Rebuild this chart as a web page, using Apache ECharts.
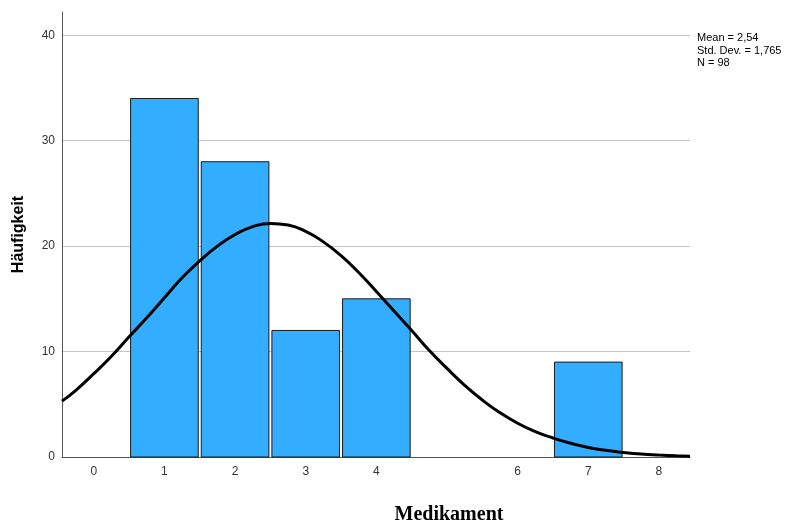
<!DOCTYPE html>
<html>
<head>
<meta charset="utf-8">
<script src="https://cdn.jsdelivr.net/npm/echarts@6/dist/echarts.min.js"></script>
<style>html,body{margin:0;padding:0;background:#fff}#c{width:790px;height:525px}</style>
</head>
<body>
<div id="c"></div>
<script>
const binCenters = [1, 2, 3, 4, 7];
const binCounts = [34, 28, 12, 15, 9];
const xTickLabels = [0, 1, 2, 3, 4, 6, 7, 8];
const yTickLabels = [0, 10, 20, 30, 40];
const curveX = [-0.45, -0.25, 0, 0.25, 0.5, 0.75, 1, 1.25, 1.5, 1.75, 2, 2.25, 2.5, 2.75, 3, 3.25, 3.5, 3.75, 4, 4.25, 4.5, 4.75, 5, 5.25, 5.5, 5.75, 6, 6.25, 6.5, 6.75, 7, 7.25, 7.5, 7.75, 8, 8.25, 8.44];
const curveY = [5.3, 6.35, 7.9, 9.55, 11.4, 13.2, 15.1, 17.0, 18.6, 20.0, 21.1, 21.85, 22.15, 22.0, 21.4, 20.4, 19.1, 17.5, 15.7, 13.85, 12.0, 10.1, 8.4, 6.8, 5.4, 4.2, 3.2, 2.4, 1.8, 1.3, 0.9, 0.63, 0.43, 0.28, 0.19, 0.12, 0.08];
const statsLines = ['Mean = 2,54', 'Std. Dev. = 1,765', 'N = 98'];

const chart = echarts.init(document.getElementById('c'));
const barData = binCenters.map((c, i) => [c, binCounts[i]]);
const curveData = curveX.map((x, i) => [x, curveY[i]]);

chart.setOption({
  animation: false,
  backgroundColor: '#ffffff',
  grid: { left: 62, right: 100, top: 12, bottom: 68 },
  xAxis: {
    type: 'value', min: -0.45, max: 8.44,
    axisLine: { show: true, onZero: false, lineStyle: { color: '#555555', width: 1 } },
    axisTick: { show: false },
    splitLine: { show: false },
    axisLabel: { customValues: xTickLabels, color: '#333333', fontFamily: 'Arial, Liberation Sans', fontSize: 12, margin: 9 }
  },
  yAxis: {
    type: 'value', min: 0, max: 42.2, interval: 10,
    name: 'Häufigkeit', nameLocation: 'middle', nameGap: 35, nameRotate: 90,
    nameTextStyle: { fontFamily: 'Arial, Liberation Sans', fontWeight: 'bold', fontSize: 16, color: '#000' },
    axisLine: { show: true, onZero: false, lineStyle: { color: '#555555', width: 1 } },
    axisTick: { show: false },
    axisLabel: { customValues: yTickLabels, color: '#333333', fontFamily: 'Arial, Liberation Sans', fontSize: 12, margin: 7 },
    splitLine: { show: true, showMaxLine: false, lineStyle: { color: '#c4c4c4', width: 1 } }
  },
  graphic: [
    { type: 'text', left: 697, top: 32, style: { text: statsLines.join('\n'), font: '11px Arial, Liberation Sans', fill: '#000', lineHeight: 12.5 } },
    { type: 'text', x: 449, y: 515, style: { text: 'Medikament', font: 'bold 20px "Liberation Serif", "Times New Roman", serif', fill: '#000', align: 'center', verticalAlign: 'middle' } }
  ],
  series: [
    {
      type: 'custom',
      data: barData,
      z: 2,
      renderItem: function (params, api) {
        const x = api.value(0), h = api.value(1);
        const tl = api.coord([x - 0.5, h]);
        const br = api.coord([x + 0.5, 0]);
        return {
          type: 'rect',
          shape: { x: tl[0] + 1.5, y: tl[1], width: br[0] - tl[0] - 3, height: br[1] - tl[1] },
          style: { fill: '#33adff', stroke: '#1a1a1a', lineWidth: 1 }
        };
      }
    },
    {
      type: 'line',
      data: curveData,
      smooth: true,
      symbol: 'none',
      z: 5,
      lineStyle: { color: '#000000', width: 3 }
    }
  ]
});
</script>
</body>
</html>
